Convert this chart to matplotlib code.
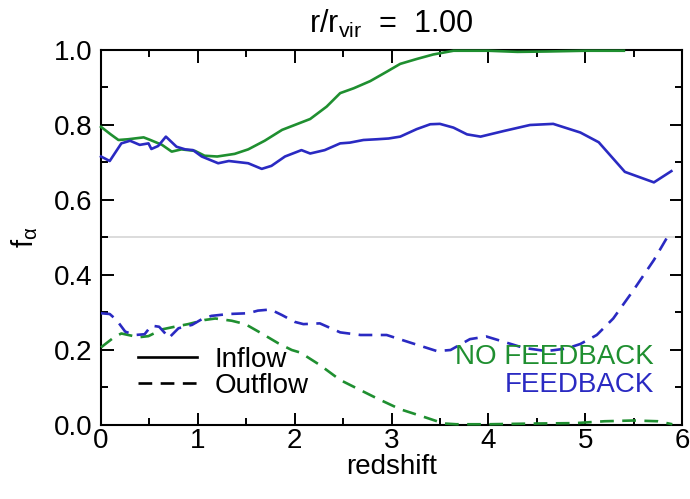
import matplotlib
matplotlib.use("Agg")
import matplotlib.pyplot as plt
from matplotlib.lines import Line2D
from matplotlib.ticker import MultipleLocator

plt.rcParams['font.family'] = ['Liberation Sans', 'DejaVu Sans']
plt.rcParams['mathtext.fontset'] = 'custom'
plt.rcParams['mathtext.rm'] = 'Liberation Sans'
plt.rcParams['mathtext.it'] = 'Liberation Sans:italic'

GREEN = '#1f8f30'
BLUE = '#2a2ac2'

# NO FEEDBACK, inflow
z_nofb_in = [0.0, 0.1, 0.18, 0.28, 0.44, 0.51, 0.63, 0.73, 0.83, 0.97, 1.07, 1.2, 1.38,
             1.52, 1.69, 1.87, 2.0, 2.16, 2.33, 2.47, 2.61, 2.78, 2.95, 3.09, 3.26, 3.43,
             3.64, 3.8, 4.0, 4.3, 4.6, 5.0, 5.4]
f_nofb_in = [0.795, 0.775, 0.76, 0.762, 0.767, 0.76, 0.747, 0.729, 0.735, 0.731, 0.718,
             0.716, 0.723, 0.735, 0.758, 0.787, 0.80, 0.816, 0.849, 0.885, 0.898, 0.917,
             0.942, 0.963, 0.976, 0.988, 0.998, 0.998, 0.998, 0.995, 0.996, 0.998, 0.998]

# FEEDBACK, inflow
z_fb_in = [0.0, 0.09, 0.21, 0.3, 0.4, 0.49, 0.52, 0.59, 0.67, 0.78, 0.87, 0.95, 1.04,
           1.21, 1.32, 1.52, 1.66, 1.76, 1.9, 2.0, 2.07, 2.16, 2.31, 2.47, 2.57, 2.71,
           2.85, 2.97, 3.09, 3.26, 3.4, 3.5, 3.64, 3.78, 3.92, 4.16, 4.43, 4.67, 4.95,
           5.14, 5.41, 5.71, 5.89]
f_fb_in = [0.716, 0.704, 0.751, 0.758, 0.747, 0.751, 0.736, 0.744, 0.769, 0.742, 0.735,
           0.733, 0.716, 0.698, 0.704, 0.698, 0.683, 0.691, 0.716, 0.726, 0.733, 0.724,
           0.733, 0.751, 0.753, 0.76, 0.762, 0.764, 0.769, 0.789, 0.802, 0.803, 0.793,
           0.775, 0.769, 0.784, 0.80, 0.803, 0.78, 0.754, 0.675, 0.647, 0.677]

# NO FEEDBACK, outflow
z_nofb_out = [0.0, 0.14, 0.21, 0.39, 0.49, 0.63, 0.76, 0.9, 1.07, 1.18, 1.35, 1.49, 1.66,
              1.83, 1.97, 2.06, 2.26, 2.47, 2.64, 2.85, 3.09, 3.33, 3.54, 3.67, 4.0, 4.5,
              4.9, 5.2, 5.5, 5.75, 5.9]
f_nofb_out = [0.207, 0.235, 0.244, 0.234, 0.237, 0.255, 0.262, 0.269, 0.28, 0.284, 0.278,
              0.269, 0.244, 0.218, 0.20, 0.193, 0.16, 0.12, 0.098, 0.071, 0.042, 0.022,
              0.004, 0.002, 0.002, 0.004, 0.005, 0.01, 0.012, 0.01, 0.002]

# FEEDBACK, outflow
z_fb_out = [0.0, 0.09, 0.16, 0.25, 0.35, 0.45, 0.52, 0.6, 0.66, 0.7, 0.8, 0.94, 1.04,
            1.14, 1.32, 1.52, 1.62, 1.75, 1.87, 2.0, 2.09, 2.26, 2.47, 2.68, 2.95, 3.19,
            3.47, 3.61, 3.81, 3.98, 4.12, 4.36, 4.6, 4.81, 4.95, 5.12, 5.29, 5.5, 5.71,
            5.88]
f_fb_out = [0.298, 0.296, 0.28, 0.249, 0.24, 0.242, 0.265, 0.262, 0.245, 0.232, 0.258,
            0.267, 0.282, 0.291, 0.296, 0.298, 0.305, 0.308, 0.293, 0.275, 0.269, 0.271,
            0.247, 0.24, 0.24, 0.22, 0.197, 0.2, 0.229, 0.236, 0.225, 0.206, 0.197, 0.204,
            0.216, 0.24, 0.284, 0.36, 0.44, 0.515]

x_ticks = [0, 1, 2, 3, 4, 5, 6]
y_ticks = [0.0, 0.2, 0.4, 0.6, 0.8, 1.0]
y_ticklabels = ['0.0', '0.2', '0.4', '0.6', '0.8', '1.0']

fig = plt.figure(figsize=(6.9, 4.99), dpi=100)
ax = fig.add_axes([0.1464, 0.1483, 0.842, 0.7515])

dash = (5.2, 3.2)
lw = 1.9
ax.axhline(0.5, color='#d9d9d9', lw=1.3, zorder=1)
ax.plot(z_nofb_in, f_nofb_in, color=GREEN, lw=lw, zorder=3, clip_on=False)
ax.plot(z_fb_in, f_fb_in, color=BLUE, lw=lw, zorder=3, clip_on=False)
ax.plot(z_nofb_out, f_nofb_out, color=GREEN, lw=lw, dashes=dash, zorder=3, clip_on=False)
ax.plot(z_fb_out, f_fb_out, color=BLUE, lw=lw, dashes=dash, zorder=3, clip_on=False)

ax.set_xlim(0, 6)
ax.set_ylim(0, 1)
ax.set_xticks(x_ticks)
ax.set_yticks(y_ticks)
ax.set_yticklabels(y_ticklabels)
ax.xaxis.set_minor_locator(MultipleLocator(0.5))
ax.yaxis.set_minor_locator(MultipleLocator(0.1))
ax.tick_params(which='both', direction='in', top=True, right=True, width=1.4,
               labelsize=20, colors='black')
ax.tick_params(axis='x', which='major', length=9, pad=2)
ax.tick_params(axis='y', which='major', length=9, pad=6)
ax.tick_params(which='minor', length=5)
for s in ax.spines.values():
    s.set_linewidth(1.5)

ax.set_xlabel('redshift', fontsize=20, labelpad=0)
ax.set_ylabel(r'f$_{\mathrm{α}}$', fontsize=21, labelpad=10)
ax.set_title(r'r/r$_{\mathrm{vir}}$  =  1.00', fontsize=22, pad=12)

handles = [Line2D([], [], color='black', lw=lw),
           Line2D([], [], color='black', lw=lw, dashes=dash)]
ax.legend(handles, ['Inflow', 'Outflow'], loc='lower left',
          bbox_to_anchor=(0.045, 0.04), frameon=False, fontsize=20,
          handlelength=2.1, handletextpad=0.65, labelspacing=0.0,
          borderaxespad=0.0)

ax.text(0.952, 0.181, 'NO FEEDBACK', color=GREEN, fontsize=20, ha='right',
        va='center', transform=ax.transAxes)
ax.text(0.952, 0.107, 'FEEDBACK', color=BLUE, fontsize=20, ha='right',
        va='center', transform=ax.transAxes)

fig.savefig('out.png', dpi=100)
